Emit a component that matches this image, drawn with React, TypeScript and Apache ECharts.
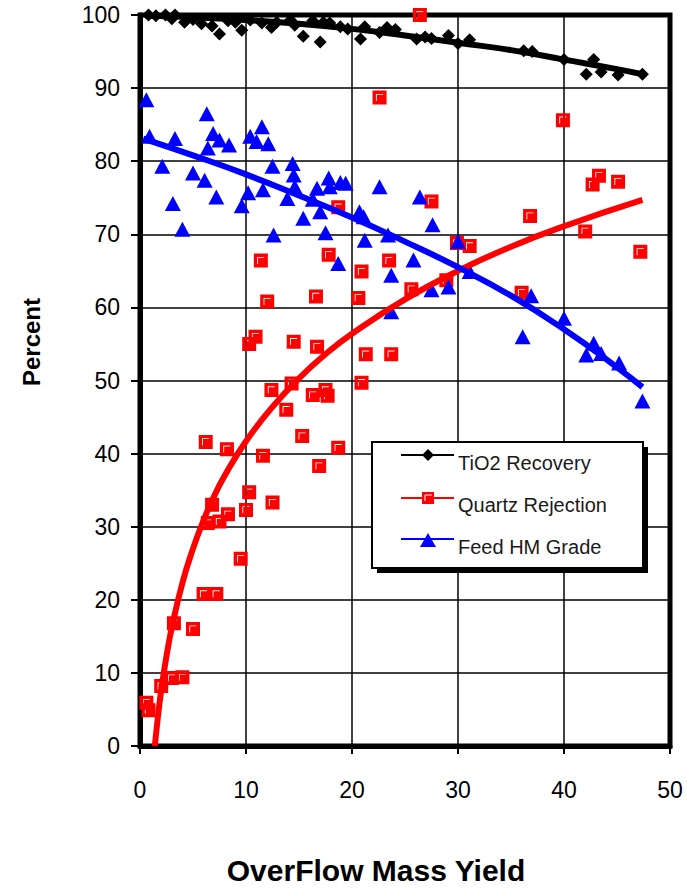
import React, { useEffect, useRef } from "react";
import * as echarts from "echarts";

// ---- data ----
const tio2Recovery: [number, number][] = [
  [0.8, 100], [1.5, 99.9], [2.4, 100], [3.3, 100], [3.0, 99.5], [4.2, 99.0], [5.0, 99.4],
  [5.8, 98.8], [6.8, 98.5], [7.5, 97.4], [8.3, 99.2], [9.0, 99.0], [9.6, 97.9], [10.4, 99.3],
  [11.5, 98.9], [12.4, 98.3], [12.9, 99.0], [14.2, 99.3], [14.6, 98.6], [15.4, 97.1],
  [16.3, 99.2], [17.0, 96.3], [17.3, 99.0], [17.9, 98.9], [18.9, 98.4], [19.6, 98.1],
  [20.8, 96.7], [21.2, 98.4], [22.6, 97.6], [23.3, 98.3], [24.1, 98.0], [26.1, 96.7],
  [26.9, 97.0], [27.5, 96.8], [29.1, 97.2], [30.0, 96.1], [31.1, 96.6], [36.2, 95.1],
  [37.0, 95.0], [40.0, 93.9], [42.1, 91.9], [42.8, 93.9], [43.5, 92.2], [45.1, 91.8], [47.4, 91.9],
];

const quartzRejection: [number, number][] = [
  [0.6, 5.9], [0.8, 4.9], [2.0, 8.2], [3.0, 9.3], [4.0, 9.4], [3.2, 16.8], [5.0, 16.0],
  [6.0, 20.8], [7.2, 20.8], [9.5, 25.6], [6.4, 30.5], [7.5, 30.7], [8.3, 31.7], [6.8, 33.0],
  [10.0, 32.3], [12.5, 33.3], [10.3, 34.7], [6.2, 41.6], [8.2, 40.6], [11.6, 39.7],
  [16.9, 38.3], [18.7, 40.8], [15.3, 42.4], [13.8, 46.0], [12.4, 48.7], [14.3, 49.6],
  [16.3, 48.0], [17.5, 48.7], [17.7, 47.9], [20.9, 49.7], [10.3, 55.0], [10.9, 56.0],
  [14.5, 55.3], [16.7, 54.6], [21.3, 53.6], [23.7, 53.6], [12.0, 60.8], [16.6, 61.5],
  [20.6, 61.3], [11.4, 66.4], [17.8, 67.2], [20.9, 64.9], [23.5, 66.4], [25.6, 62.5],
  [28.9, 63.7], [29.9, 68.8], [31.1, 68.4], [36.0, 62.0], [42.0, 70.4], [47.2, 67.6],
  [18.7, 73.7], [27.5, 74.5], [36.8, 72.5], [42.7, 76.8], [43.3, 78.0], [45.1, 77.2],
  [39.9, 85.6], [22.6, 88.7], [26.4, 100],
];

const feedHmGrade: [number, number][] = [
  [0.6, 88.4], [0.9, 83.4], [3.3, 83.1], [6.3, 86.5], [6.9, 83.8], [7.5, 82.9], [8.4, 82.2],
  [6.4, 81.8], [2.1, 79.3], [5.0, 78.4], [6.1, 77.4], [3.1, 74.2], [4.0, 70.7], [7.2, 75.1],
  [10.4, 83.4], [11.5, 84.7], [11.0, 82.7], [12.1, 82.4], [12.5, 79.3], [10.2, 75.7],
  [9.6, 73.9], [11.6, 76.1], [12.6, 69.9], [14.4, 79.7], [14.5, 78.1], [14.6, 76.5],
  [13.9, 74.9], [15.4, 72.2], [16.7, 76.3], [16.3, 74.8], [17.0, 73.1], [17.8, 77.7],
  [17.9, 76.5], [18.9, 77.1], [19.4, 77.0], [17.5, 70.2], [18.7, 66.0], [20.7, 73.1],
  [21.1, 72.4], [21.2, 69.2], [22.6, 76.5], [23.4, 69.9], [23.7, 64.4], [23.7, 59.4],
  [25.8, 66.5], [26.4, 75.1], [27.6, 71.3], [27.5, 62.4], [29.1, 62.8], [30.0, 69.0],
  [31.1, 64.9], [36.9, 61.6], [36.1, 56.0], [40.0, 58.5], [42.8, 55.1], [42.1, 53.5],
  [43.5, 53.7], [45.2, 52.4], [47.4, 47.2],
];

// trend lines, read at several points along each drawn curve
const tio2Trend: [number, number][] = [
  [0.5, 99.9], [5, 99.7], [10, 99.3], [15, 98.8], [20, 98.1], [25, 97.2],
  [30, 96.2], [35, 95.2], [40, 93.9], [45, 92.6], [47.4, 91.9],
];
const quartzTrend: [number, number][] = [
  [1.4, 0], [1.7, 4.1], [2, 7.6], [2.5, 12.3], [3, 16.2], [4, 22.3], [5, 27.0], [6, 30.9],
  [7, 34.2], [8, 37.0], [10, 41.7], [12.5, 46.4], [15, 50.3], [17.5, 53.6], [20, 56.4],
  [25, 61.1], [30, 65.0], [35, 68.3], [40, 71.1], [47.4, 74.7],
];
const gradeTrend: [number, number][] = [
  [0.3, 83.1], [5, 80.8], [10, 78.2], [15, 75.3], [20, 72.3], [25, 69.0],
  [30, 65.5], [35, 61.6], [40, 57.0], [45, 51.8], [47.4, 49.1],
];

const legendNames = ["TiO2 Recovery", "Quartz Rejection", "Feed HM Grade"];

const FONT = '"Liberation Sans", Arial, sans-serif';
// red square with a thin white "Γ" highlight (inner sub-path wound the other way = hole)
const SQUARE_SYMBOL = "path://M0 0H100V100H0Z M24 24V74H30V30H74V24Z";

export default function App() {
  const ref = useRef<HTMLDivElement>(null);

  useEffect(() => {
    if (!ref.current) return;
    const chart = echarts.init(ref.current, undefined, { renderer: "svg" });

    const legendRows = [455, 498, 539];
    const legendTextRows = [463, 505, 547];
    const legendColors = ["#000000", "#ff0000", "#0000ff"];

    const legendGraphics: any[] = [
      { type: "rect", shape: { x: 377, y: 447, width: 271, height: 126 }, style: { fill: "#000" }, z: 100 },
      { type: "rect", shape: { x: 372, y: 442, width: 271, height: 126 }, style: { fill: "#fff", stroke: "#000", lineWidth: 2 }, z: 101 },
    ];
    legendNames.forEach((name, i) => {
      legendGraphics.push({
        type: "line",
        shape: { x1: 401, y1: legendRows[i], x2: 454, y2: legendRows[i] },
        style: { stroke: legendColors[i], lineWidth: 2 },
        z: 102,
      });
      legendGraphics.push({
        type: "text",
        x: 458,
        y: legendTextRows[i],
        style: { text: name, fill: "#1a1a1a", font: `20px ${FONT}`, align: "left", verticalAlign: "middle" },
        z: 102,
      });
    });
    // legend markers
    legendGraphics.push({
      type: "polygon",
      shape: { points: [[428, 449], [434, 455], [428, 461], [422, 455]] },
      style: { fill: "#000" },
      z: 103,
    });
    legendGraphics.push({
      type: "rect",
      shape: { x: 422, y: 492, width: 12, height: 12 },
      style: { fill: "#ff0000" },
      z: 103,
    });
    legendGraphics.push({
      type: "polyline",
      shape: { points: [[425, 501], [425, 495], [432, 495]] },
      style: { stroke: "#fff", lineWidth: 1, fill: null },
      z: 104,
    });
    legendGraphics.push({
      type: "polygon",
      shape: { points: [[428, 533], [436, 547], [420, 547]] },
      style: { fill: "#0000ff" },
      z: 103,
    });

    const option: any = {
      animation: false,
      backgroundColor: "#ffffff",
      grid: {
        left: 140,
        top: 15,
        width: 530,
        height: 731,
        show: true,
        borderColor: "#000",
        borderWidth: 5,
        backgroundColor: "transparent",
      },
      xAxis: {
        type: "value",
        min: 0,
        max: 50,
        interval: 10,
        axisLine: { show: true, lineStyle: { color: "#000", width: 5 } },
        axisTick: { show: true, length: 8, lineStyle: { color: "#000", width: 2 } },
        axisLabel: { color: "#000", fontSize: 23, fontFamily: FONT, margin: 32 },
        splitLine: { show: true, lineStyle: { color: "#000", width: 1.5 } },
      },
      yAxis: {
        type: "value",
        min: 0,
        max: 100,
        interval: 10,
        axisLine: { show: true, lineStyle: { color: "#000", width: 5 } },
        axisTick: { show: true, length: 9, lineStyle: { color: "#000", width: 2 } },
        axisLabel: { color: "#000", fontSize: 23, fontFamily: FONT, margin: 20 },
        splitLine: { show: true, lineStyle: { color: "#000", width: 1.5 } },
      },
      series: [
        {
          name: legendNames[0],
          type: "scatter",
          data: tio2Recovery,
          symbol: "diamond",
          symbolSize: 13,
          itemStyle: { color: "#000", opacity: 1 },
          clip: false,
          z: 3,
        },
        {
          name: legendNames[1],
          type: "scatter",
          data: quartzRejection,
          symbol: SQUARE_SYMBOL,
          symbolSize: 14,
          itemStyle: { color: "#ff0000", opacity: 1 },
          clip: false,
          z: 4,
        },
        {
          name: legendNames[2],
          type: "scatter",
          data: feedHmGrade,
          symbol: "triangle",
          symbolSize: [16, 15],
          itemStyle: { color: "#0000ff", opacity: 1 },
          clip: false,
          z: 5,
        },
        {
          name: legendNames[0] + " trend",
          type: "line",
          data: tio2Trend,
          smooth: true,
          showSymbol: false,
          symbol: "none",
          lineStyle: { color: "#000", width: 6 },
          z: 6,
        },
        {
          name: legendNames[1] + " trend",
          type: "line",
          data: quartzTrend,
          smooth: true,
          showSymbol: false,
          symbol: "none",
          lineStyle: { color: "#ff0000", width: 6 },
          z: 6,
        },
        {
          name: legendNames[2] + " trend",
          type: "line",
          data: gradeTrend,
          smooth: true,
          showSymbol: false,
          symbol: "none",
          lineStyle: { color: "#0000ff", width: 6 },
          z: 6,
        },
      ],
      graphic: [
        {
          type: "text",
          x: 376,
          y: 870,
          style: {
            text: "OverFlow Mass Yield",
            fill: "#000",
            font: `bold 30px ${FONT}`,
            align: "center",
            verticalAlign: "middle",
          },
        },
        {
          type: "text",
          x: 31,
          y: 342,
          rotation: Math.PI / 2,
          style: {
            text: "Percent",
            fill: "#000",
            font: `bold 24px ${FONT}`,
            align: "center",
            verticalAlign: "middle",
          },
        },
        ...legendGraphics,
      ],
    };

    chart.setOption(option);
    return () => {
      chart.dispose();
    };
  }, []);

  return (
    <div
      ref={ref}
      style={{ position: "fixed", left: 0, top: 0, width: 687, height: 888, background: "#fff" }}
    />
  );
}
